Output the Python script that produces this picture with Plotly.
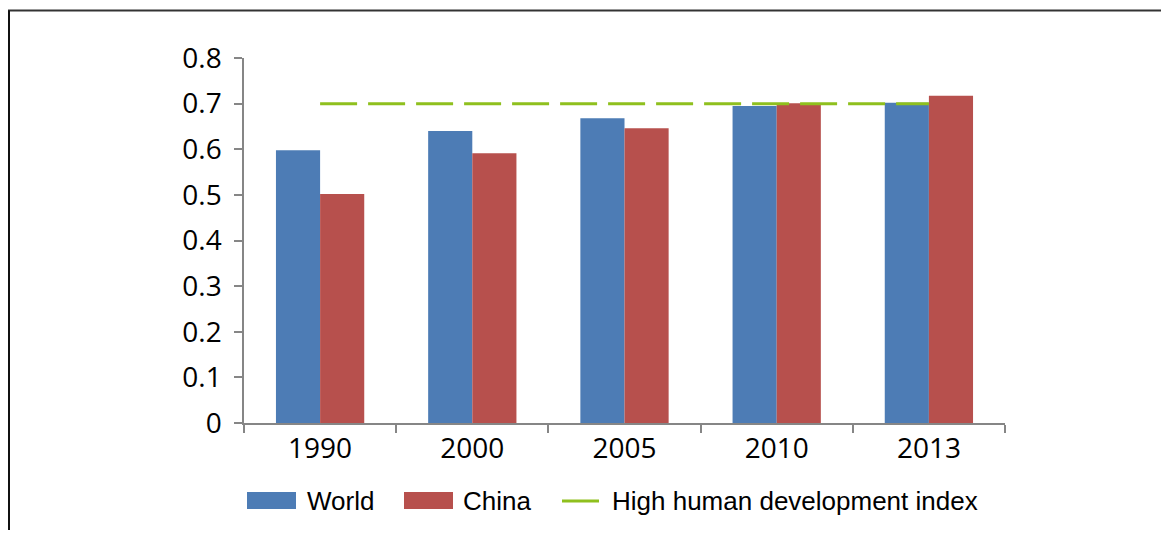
import plotly.graph_objects as go

years = ["1990", "2000", "2005", "2010", "2013"]
world = [0.598, 0.640, 0.668, 0.695, 0.702]
china = [0.502, 0.591, 0.646, 0.701, 0.717]
high_hdi = [0.7, 0.7, 0.7, 0.7, 0.7]
y_ticks = [0, 0.1, 0.2, 0.3, 0.4, 0.5, 0.6, 0.7, 0.8]
y_labels = ["0", "0.1", "0.2", "0.3", "0.4", "0.5", "0.6", "0.7", "0.8"]

BLUE = "#4D7CB5"
RED = "#B7504D"
GREEN = "#8FC01E"
AXIS = "#868686"

OFF = 8  # page body margin
W, H = 1169 - 2 * OFF, 540 - 2 * OFF - 2
# desired plot area on screen: x 244..1005, y 58..423
L = 244 - OFF
T = 58 - OFF
R = W - (1005 - OFF)
B = H - (423 - OFF)
pw, ph = W - L - R, H - T - B

def px(x):
    return (x - OFF - L) / pw

def py(y):
    return (H - B - (y - OFF)) / ph

fig = go.Figure()
fig.add_trace(go.Bar(x=years, y=world, name="World", marker=dict(color=BLUE, line=dict(width=0))))
fig.add_trace(go.Bar(x=years, y=china, name="China", marker=dict(color=RED, line=dict(width=0))))
fig.add_trace(go.Scatter(x=years, y=high_hdi, mode="lines", name="High human development index",
                         line=dict(color=GREEN, width=3, dash="37px,11px")))

fig.update_layout(
    width=W, height=H,
    margin=dict(l=L, r=R, t=T, b=B),
    paper_bgcolor="white", plot_bgcolor="white",
    barmode="group", bargap=0.42, bargroupgap=0,
    showlegend=False,
    font=dict(family="Open Sans, sans-serif", color="black"),
)
fig.update_xaxes(
    type="category", showgrid=False, showline=True, linecolor=AXIS, linewidth=1.5,
    ticks="outside", tickson="boundaries", ticklen=8, tickcolor=AXIS, tickwidth=1.5,
    tickfont=dict(size=28, family="Open Sans, sans-serif", color="black"),
)
fig.update_yaxes(
    range=[0, 0.8], tickvals=y_ticks, ticktext=y_labels, showgrid=False, zeroline=False,
    showline=True, linecolor=AXIS, linewidth=1.5,
    ticks="outside", ticklen=8, tickcolor=AXIS, tickwidth=1.5, ticklabelstandoff=7,
    tickfont=dict(size=28, family="Open Sans, sans-serif", color="black"),
)

shapes = []
# frame lines (top and left)
shapes.append(dict(type="line", xref="paper", yref="paper", x0=px(8), x1=px(1172), y0=py(10.5), y1=py(10.5),
                   line=dict(color="#333333", width=2)))
shapes.append(dict(type="line", xref="paper", yref="paper", x0=px(9), x1=px(9), y0=py(10.5), y1=py(545),
                   line=dict(color="#111111", width=2)))
# legend swatches
shapes.append(dict(type="rect", xref="paper", yref="paper", x0=px(247), x1=px(296), y0=py(509), y1=py(492),
                   fillcolor=BLUE, line=dict(width=0)))
shapes.append(dict(type="rect", xref="paper", yref="paper", x0=px(404), x1=px(453), y0=py(509), y1=py(492),
                   fillcolor=RED, line=dict(width=0)))
shapes.append(dict(type="line", xref="paper", yref="paper", x0=px(562), x1=px(599), y0=py(501), y1=py(501),
                   line=dict(color=GREEN, width=3)))
fig.update_layout(shapes=shapes)

legend_font = dict(family="Liberation Sans, Arial, sans-serif", size=26, color="black")
for xpos, text in [(305, "World"), (461, "China"), (610, "High human development index")]:
    fig.add_annotation(xref="paper", yref="paper", x=px(xpos), y=py(501), text=text, showarrow=False,
                       xanchor="left", yanchor="middle", font=legend_font)

fig.write_html("out.html")
